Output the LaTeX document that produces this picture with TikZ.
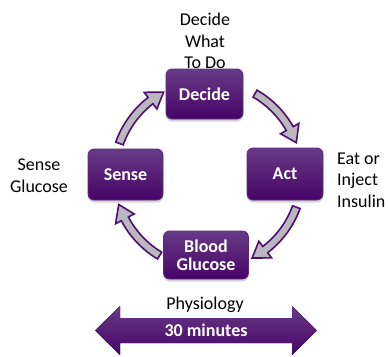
\documentclass[tikz,border=0pt]{standalone}
\usepackage{fontspec}
\setmainfont{Carlito}
\usetikzlibrary{shadows}

\definecolor{plumTop}{RGB}{104,58,134}
\definecolor{plumMid}{RGB}{78,14,110}
\definecolor{plumLow}{RGB}{70,4,102}
\definecolor{plumEdge}{RGB}{92,42,124}
\definecolor{plumLine}{RGB}{78,16,112}
\definecolor{loopGray}{RGB}{186,184,190}

\begin{document}
\begin{tikzpicture}[x=1pt,y=-1pt,
  stage/.style={rounded corners=6pt, draw=plumEdge, line width=0.8pt,
    top color=plumTop, middle color=plumMid, bottom color=plumLow,
    text=white, font=\fontsize{18}{20}\selectfont\bfseries,
    align=center, inner sep=0pt,
    drop shadow={shadow xshift=0pt, shadow yshift=-2.5pt, opacity=0.35}},
  note/.style={font=\fontsize{18}{21.7}\selectfont, align=center, inner sep=0pt},
  loop/.style={fill=loopGray, draw=plumLine, line width=1.6pt, line join=miter},
  band/.style={top color=plumTop, middle color=plumMid, bottom color=plumLow}]
\useasboundingbox (0,0) rectangle (388,356);

% the four stages of the loop
\node[stage, minimum width=77pt, minimum height=50pt] (decide) at (204.5,94) {Decide};
\node[stage, minimum width=76pt, minimum height=52pt] (act) at (285,174) {Act};
\node[stage, minimum width=75pt, minimum height=51pt] (sense) at (125.5,174.5) {Sense};
\node[stage, minimum width=85pt, minimum height=48pt] (blood) at (206,255) {Blood\\[-2pt]Glucose};

% side labels
\node[note] (plan) at (205,41) {Decide\\What\\To Do};
\node[note, align=left, anchor=west] (dose) at (337,180) {Eat or\\Inject\\Insulin};
\node[note] (meter) at (39,176) {Sense\\Glucose};
\node[note] (phys) at (205,305) {Physiology};

% curved block arrows running clockwise round the hub
\coordinate (hub) at (208,175);
\begin{scope}[shift={(hub)}]
  \foreach \a/\b in {-160.4/-118.2, -60/-20.1, 20/62, 121/161.7} {
    \pgfmathsetmacro\c{\b-9.5}
    \draw[loop] (\a:98) arc[start angle=\a, end angle=\c, radius=98]
      -- (\c:104.5) -- (\b:94) -- (\c:83.5) -- (\c:90)
      arc[start angle=\c, end angle=\a, radius=90] -- cycle;
  }
\end{scope}

% time span arrow
\coordinate (spanL) at (95,330.5);
\coordinate (spanR) at (317,330.5);
\fill[band] (spanL) -- (120,306) -- (120,318) -- (292,318) -- (292,306)
  -- (spanR) -- (292,355) -- (292,343) -- (120,343) -- (120,355) -- cycle;
\node[text=white, font=\fontsize{18}{20}\selectfont\bfseries, inner sep=0pt]
  (span) at (206,330.5) {30 minutes};
\end{tikzpicture}
\end{document}
